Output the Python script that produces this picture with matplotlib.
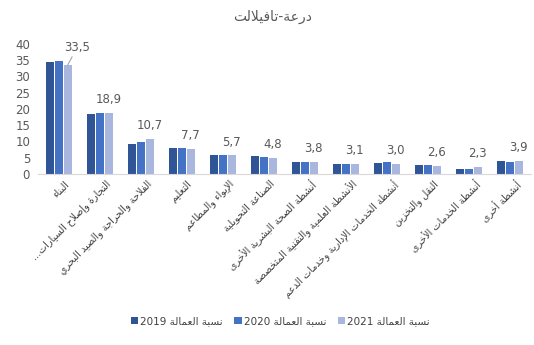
import numpy as np
import matplotlib
matplotlib.use("Agg")
import matplotlib.pyplot as plt
import matplotlib.transforms as mtransforms

# Arabic contextual forms (Presentation Forms-B): base = isolated form
DUAL = {'ئ': 0xFE89, 'ب': 0xFE8F, 'ت': 0xFE95, 'ث': 0xFE99, 'ج': 0xFE9D,
        'ح': 0xFEA1, 'خ': 0xFEA5, 'س': 0xFEB1, 'ش': 0xFEB5, 'ص': 0xFEB9,
        'ض': 0xFEBD, 'ط': 0xFEC1, 'ظ': 0xFEC5, 'ع': 0xFEC9, 'غ': 0xFECD,
        'ف': 0xFED1, 'ق': 0xFED5, 'ك': 0xFED9, 'ل': 0xFEDD, 'م': 0xFEE1,
        'ن': 0xFEE5, 'ه': 0xFEE9, 'ي': 0xFEF1}
RIGHT = {'آ': 0xFE81, 'أ': 0xFE83, 'ؤ': 0xFE85, 'إ': 0xFE87, 'ا': 0xFE8D,
         'ة': 0xFE93, 'د': 0xFEA9, 'ذ': 0xFEAB, 'ر': 0xFEAD, 'ز': 0xFEAF,
         'و': 0xFEED, 'ى': 0xFEEF}
LAM_ALEF = {'آ': 0xFEF5, 'أ': 0xFEF7, 'إ': 0xFEF9, 'ا': 0xFEFB}
NONJOIN = {'ء': 0xFE80}


def shape(text):
    """Join Arabic letters and put them in visual (left-to-right) order."""
    items = []
    i = 0
    while i < len(text):
        c = text[i]
        if c == 'ل' and i + 1 < len(text) and text[i + 1] in LAM_ALEF:
            items.append(('LA', LAM_ALEF[text[i + 1]]))
            i += 2
        else:
            items.append((c, None))
            i += 1

    def joins_next(it):
        return it[0] in DUAL

    def joins_prev(it):
        return it[0] in DUAL or it[0] in RIGHT or it[0] == 'LA'

    out = []
    for k, it in enumerate(items):
        c, lig = it
        p = k > 0 and joins_next(items[k - 1]) and joins_prev(it)
        n = k + 1 < len(items) and joins_next(it) and joins_prev(items[k + 1])
        if c == 'LA':
            out.append(chr(lig + (1 if p else 0)))
        elif c in DUAL:
            base = DUAL[c]
            if p and n:
                out.append(chr(base + 3))
            elif n:
                out.append(chr(base + 2))
            elif p:
                out.append(chr(base + 1))
            else:
                out.append(chr(base))
        elif c in RIGHT:
            out.append(chr(RIGHT[c] + (1 if p else 0)))
        elif c in NONJOIN:
            out.append(chr(NONJOIN[c]))
        else:
            out.append(c)
    return ''.join(reversed(out))


# Data
title = "درعة-تافيلالت"
sectors = ["البناء",
           "التجارة وإصلاح السيارات...",
           "الفلاحة والحراجة والصيد البحري",
           "التعليم",
           "الإيواء والمطاعم",
           "الصناعة التحويلية",
           "أنشطة الصحة البشرية الأخرى",
           "الأنشطة العلمية والتقنية المتخصصة",
           "أنشطة الخدمات الإدارية وخدمات الدعم",
           "النقل والتخزين",
           "أنشطة الخدمات الأخرى",
           "أنشطة أخرى"]
share_2019 = [34.4, 18.4, 9.3, 8.1, 5.9, 5.4, 3.8, 3.2, 3.5, 2.9, 1.5, 4.0]
share_2020 = [34.9, 18.8, 9.7, 7.9, 5.9, 5.2, 3.7, 3.2, 3.7, 2.8, 1.5, 3.8]
share_2021 = [33.5, 18.9, 10.7, 7.7, 5.7, 4.8, 3.8, 3.1, 3.0, 2.6, 2.3, 3.9]
years = ["2019", "2020", "2021"]
legend_text = "نسبة العمالة"

colors = ["#2F5597", "#4472C4", "#A9B6DE"]

fig = plt.figure(figsize=(5.34, 3.45), dpi=100)
ax = fig.add_axes([0.072, 0.4957, 0.9215, 0.3768])

x = np.arange(len(sectors))
w = 0.195
step = 0.21
series = [share_2019, share_2020, share_2021]
for k, (vals, col, yr) in enumerate(zip(series, colors, years)):
    ax.bar(x + (k - 1) * step, vals, width=w, color=col,
           label=yr + " " + shape(legend_text))

# value labels on the 2021 bars
for i, v in enumerate(share_2021):
    txt = f"{v:.1f}".replace(".", ",")
    if i == 0:
        ax.annotate(txt, xy=(x[i] + step, v), xytext=(7, 8),
                    textcoords="offset points", ha="center", va="bottom",
                    fontsize=8.5, color="#595959",
                    arrowprops=dict(arrowstyle="-", color="#A6A6A6", lw=0.8,
                                    shrinkA=0, shrinkB=0))
    else:
        ax.annotate(txt, xy=(x[i] + step, v), xytext=(0, 5),
                    textcoords="offset points", ha="center", va="bottom",
                    fontsize=8.5, color="#595959")

ax.set_xlim(-0.5, len(sectors) - 0.5)
ax.set_ylim(0, 40)
ax.set_yticks(range(0, 41, 5))
ax.tick_params(axis="y", length=0, labelsize=8.5, labelcolor="#595959", pad=6)
ax.tick_params(axis="x", length=0, pad=3)
ax.set_xticks(x)
ax.set_xticklabels([shape(s) for s in sectors], rotation=45, ha="right",
                   va="top", rotation_mode="anchor", fontsize=7,
                   color="#404040")
# nudge the slanted labels a little to the right of their ticks
shift = mtransforms.ScaledTranslation(5 / 100, 0, fig.dpi_scale_trans)
for lbl in ax.get_xticklabels():
    lbl.set_transform(lbl.get_transform() + shift)

for side in ["top", "right", "left"]:
    ax.spines[side].set_visible(False)
ax.spines["bottom"].set_color("#D9D9D9")

fig.text(0.51, 0.95, shape(title), ha="center", va="center", fontsize=10,
         color="#595959")

fig.legend(loc="center", bbox_to_anchor=(0.525, 0.07), ncol=3, frameon=False,
           fontsize=7.5, handlelength=0.7, handleheight=0.7, handletextpad=0.2,
           columnspacing=1.1, labelcolor="#404040")

fig.savefig("out.png", dpi=100)
